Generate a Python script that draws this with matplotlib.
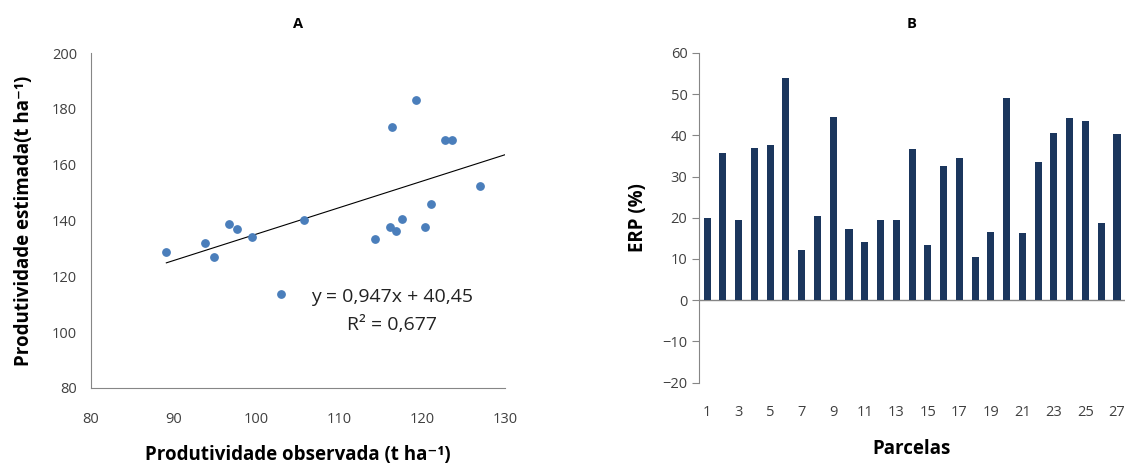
import numpy as np
import matplotlib
matplotlib.use('Agg')
import matplotlib.pyplot as plt

plt.rcParams['font.family'] = ['Open Sans', 'DejaVu Sans']

# painel A: produtividade observada x estimada
obs = [89.1, 93.8, 94.9, 96.7, 97.6, 99.5, 105.7, 102.9, 114.3, 116.1,
       116.8, 117.5, 116.4, 119.2, 120.3, 121.1, 122.8, 123.6, 127.0]
est = [128.7, 131.9, 127.0, 138.9, 137.0, 134.2, 140.2, 113.6, 133.4, 137.8,
       136.1, 140.6, 173.5, 183.3, 137.6, 145.9, 169.0, 169.0, 152.5]
slope = 0.947
intercept = 40.45

# painel B: ERP por parcela
parcelas = list(range(1, 28))
erp = [20.0, 35.8, 19.4, 37.0, 37.7, 53.8, 12.1, 20.5, 44.5, 17.3,
       14.1, 19.4, 19.5, 36.6, 13.5, 32.5, 34.5, 10.5, 16.6, 49.0,
       16.4, 33.5, 40.6, 44.3, 43.4, 18.7, 40.2]

axis_grey = '#868686'
txt = '#404040'

fig = plt.figure(figsize=(11.26, 4.63), dpi=100)

# ---- A ----
ax1 = fig.add_axes([0.0808, 0.162, 0.3677, 0.7235])
ax1.scatter(obs, est, s=28, color='#4a7ebb', zorder=3)
xl = np.array([min(obs), 130])
ax1.plot(xl, slope * xl + intercept, color='black', lw=0.8)
ax1.set_xlim(80, 130)
ax1.set_ylim(80, 200)
ax1.set_xticks(range(80, 131, 10))
ax1.set_yticks(range(80, 201, 20))
for s in ['top', 'right']:
    ax1.spines[s].set_visible(False)
for s in ['left', 'bottom']:
    ax1.spines[s].set_color(axis_grey)
ax1.tick_params(length=0, labelsize=10.5, colors=txt)
ax1.tick_params(axis='x', pad=17)
ax1.tick_params(axis='y', pad=10)
ax1.text(116.3, 112.6, 'y = 0,947x + 40,45', fontsize=14, ha='center', va='center', color='#222222')
ax1.text(116.3, 102.6, 'R² = 0,677', fontsize=14, ha='center', va='center', color='#222222')
ax1.set_title('A', fontsize=10.5, fontweight='bold', pad=18)
ax1.set_xlabel('Produtividade observada (t ha⁻¹)', fontsize=13.5, fontweight='bold', labelpad=13)
ax1.set_ylabel('Produtividade estimada(t ha⁻¹)', fontsize=13.5, fontweight='bold', labelpad=13)

# ---- B ----
ax2 = fig.add_axes([0.621, 0.1734, 0.378, 0.7126])
ax2.bar(parcelas, erp, width=0.45, color='#1b365d', zorder=3)
ax2.set_xlim(0.5, 27.5)
ax2.set_ylim(-20, 60)
ax2.set_yticks(range(-20, 61, 10))
ax2.set_xticks(parcelas[::2])
ax2.axhline(0, color=axis_grey, lw=1, zorder=2)
for s in ['top', 'right', 'bottom']:
    ax2.spines[s].set_visible(False)
ax2.spines['left'].set_color(axis_grey)
ax2.tick_params(axis='y', length=5, color=axis_grey, labelsize=10.5, labelcolor=txt)
ax2.tick_params(axis='x', length=0, labelsize=10.5, labelcolor=txt, pad=16)
ax2.set_title('B', fontsize=10.5, fontweight='bold', pad=18)
ax2.set_xlabel('Parcelas', fontsize=13.5, fontweight='bold', labelpad=14)
ax2.set_ylabel('ERP (%)', fontsize=13.5, fontweight='bold', labelpad=10)

plt.savefig('out.png', dpi=100)
